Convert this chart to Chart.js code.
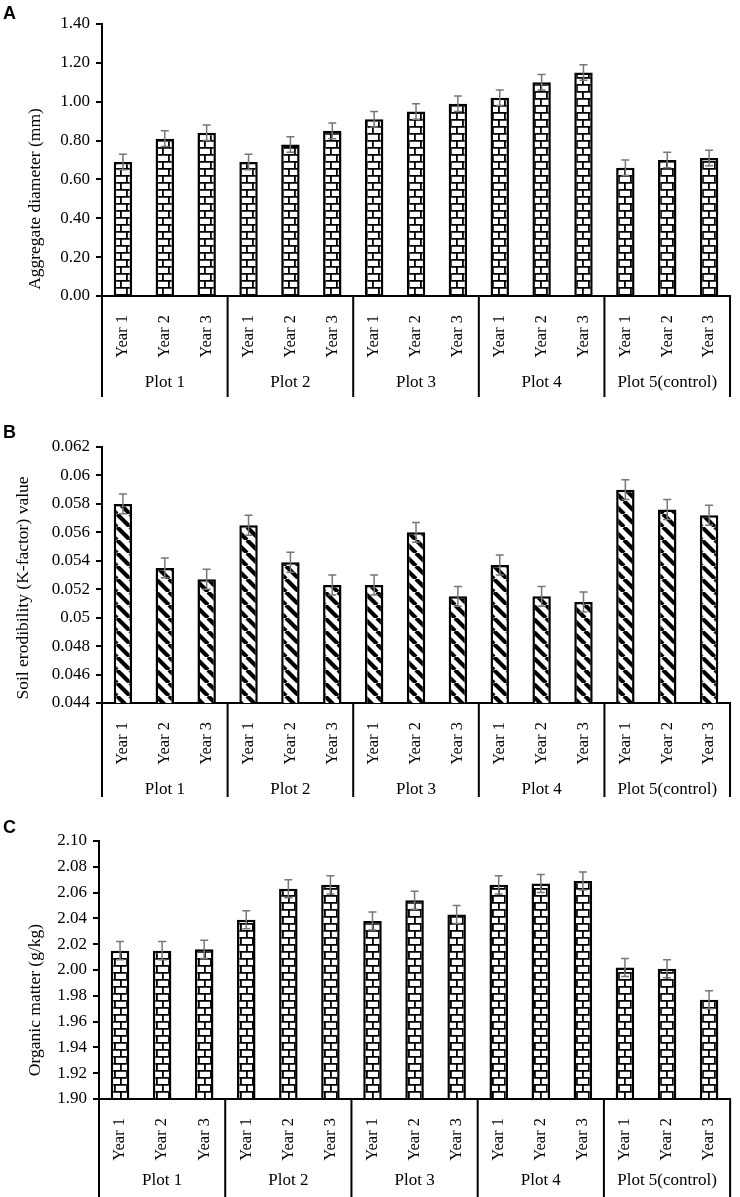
<!DOCTYPE html>
<html>
<head>
<meta charset="utf-8">
<script src="https://cdn.jsdelivr.net/npm/chart.js@4.4.0/dist/chart.umd.min.js"></script>
<style>
  html, body { margin: 0; padding: 0; background: #fff; }
  .panel { position: absolute; left: 0; width: 740px; }
</style>
</head>
<body>
<div class="panel" style="top:0;height:397px"><canvas id="chartA" width="740" height="397"></canvas></div>
<div class="panel" style="top:397px;height:400px"><canvas id="chartB" width="740" height="400"></canvas></div>
<div class="panel" style="top:797px;height:400px"><canvas id="chartC" width="740" height="400"></canvas></div>
<script>
// categories
const years = ["Year 1", "Year 2", "Year 3"];
const plots = ["Plot 1", "Plot 2", "Plot 3", "Plot 4", "Plot 5(control)"];

// panel A: aggregate diameter (mm)
const aggDiameter = [0.69, 0.81, 0.84, 0.69, 0.78, 0.85, 0.91, 0.95, 0.99, 1.02, 1.10, 1.15, 0.66, 0.70, 0.71];
const aggError    = [0.04, 0.04, 0.04, 0.04, 0.04, 0.04, 0.04, 0.04, 0.04, 0.04, 0.04, 0.04, 0.04, 0.04, 0.04];

// panel B: soil erodibility K-factor
const kFactor = [0.0580, 0.0535, 0.0527, 0.0565, 0.0539, 0.0523, 0.0523, 0.0560, 0.0515, 0.0537, 0.0515, 0.0511, 0.0590, 0.0576, 0.0572];
const kError  = [0.0007, 0.0007, 0.0007, 0.0007, 0.0007, 0.0007, 0.0007, 0.0007, 0.0007, 0.0007, 0.0007, 0.0007, 0.0007, 0.0007, 0.0007];

// panel C: organic matter (g/kg)
const organic = [2.015, 2.015, 2.016, 2.039, 2.063, 2.066, 2.038, 2.054, 2.043, 2.066, 2.067, 2.069, 2.002, 2.001, 1.977];
const orgError = [0.007, 0.007, 0.007, 0.007, 0.007, 0.007, 0.007, 0.007, 0.007, 0.007, 0.007, 0.007, 0.007, 0.007, 0.007];

const labels = [];
plots.forEach(() => years.forEach(y => labels.push(y)));

const serif = "'Liberation Serif', 'Times New Roman', serif";

function brickPattern() {
  const c = document.createElement("canvas");
  c.width = 12; c.height = 14;
  const g = c.getContext("2d");
  g.fillStyle = "#fff";
  g.fillRect(0, 0, 12, 14);
  g.strokeStyle = "#000";
  g.lineWidth = 1.8;
  g.beginPath();
  g.moveTo(0, 0.9); g.lineTo(12, 0.9);
  g.moveTo(0, 7.9); g.lineTo(12, 7.9);
  g.moveTo(0.9, 0); g.lineTo(0.9, 7.9);
  g.moveTo(6.9, 7.9); g.lineTo(6.9, 14);
  g.stroke();
  return g.createPattern(c, "repeat");
}

function stripePattern() {
  const s = 13;
  const c = document.createElement("canvas");
  c.width = s; c.height = s;
  const g = c.getContext("2d");
  g.fillStyle = "#fff";
  g.fillRect(0, 0, s, s);
  g.strokeStyle = "#000";
  g.lineWidth = 4.2;
  g.beginPath();
  for (let k = -1; k <= 1; k++) {
    g.moveTo(k * s, 0);
    g.lineTo(k * s + s, s);
  }
  g.stroke();
  return g.createPattern(c, "repeat");
}

// error bars, group separators, group names, panel letter and y title
const decorations = {
  id: "decorations",
  afterDatasetsDraw(chart, args, opts) {
    const ctx = chart.ctx;
    const y = chart.scales.y;
    const meta = chart.getDatasetMeta(0);
    const vals = chart.data.datasets[0].data;
    ctx.save();
    ctx.strokeStyle = "#777";
    ctx.lineWidth = 1.5;
    meta.data.forEach((bar, i) => {
      const top = y.getPixelForValue(vals[i] + opts.errors[i]);
      const bot = y.getPixelForValue(vals[i] - opts.errors[i]);
      ctx.beginPath();
      ctx.moveTo(bar.x, top); ctx.lineTo(bar.x, bot);
      ctx.moveTo(bar.x - 4, top); ctx.lineTo(bar.x + 4, top);
      ctx.moveTo(bar.x - 4, bot); ctx.lineTo(bar.x + 4, bot);
      ctx.stroke();
    });
    ctx.restore();
  },
  afterDraw(chart, args, opts) {
    const ctx = chart.ctx;
    const x = chart.scales.x;
    const area = chart.chartArea;
    const h = chart.height;
    ctx.save();
    ctx.strokeStyle = "#000";
    ctx.lineWidth = 2;
    const bounds = [area.left];
    for (let g = 1; g < plots.length; g++) {
      const i = g * years.length;
      bounds.push((x.getPixelForValue(i - 1) + x.getPixelForValue(i)) / 2);
    }
    bounds.push(area.right);
    ctx.beginPath();
    bounds.forEach(b => { ctx.moveTo(b, area.bottom); ctx.lineTo(b, h); });
    ctx.stroke();

    ctx.fillStyle = "#000";
    ctx.font = "17px " + serif;
    ctx.textAlign = "center";
    ctx.textBaseline = "middle";
    plots.forEach((p, g) => {
      ctx.fillText(p, (bounds[g] + bounds[g + 1]) / 2, area.bottom + opts.groupOffset);
    });

    ctx.font = "bold 18px 'Liberation Sans', Arial, sans-serif";
    ctx.textAlign = "left";
    ctx.textBaseline = "alphabetic";
    ctx.fillText(opts.letter, 3, opts.letterY);

    ctx.translate(opts.titleX, opts.titleY);
    ctx.rotate(-Math.PI / 2);
    ctx.font = "17.5px " + serif;
    ctx.textAlign = "center";
    ctx.textBaseline = "middle";
    ctx.fillText(opts.title, 0, 0);
    ctx.restore();
  }
};

function makeChart(id, cfg) {
  return new Chart(document.getElementById(id), {
    type: "bar",
    data: {
      labels: labels,
      datasets: [{
        data: cfg.values,
        backgroundColor: cfg.fill,
        borderColor: "#000",
        borderWidth: 2.5,
        borderSkipped: "start",
        barPercentage: 0.44,
        categoryPercentage: 1.0
      }]
    },
    options: {
      responsive: false,
      animation: false,
      layout: { padding: { top: cfg.padTop, right: 3, bottom: cfg.padBottom, left: 0 } },
      plugins: {
        legend: { display: false },
        tooltip: { enabled: false },
        decorations: {
          errors: cfg.errors,
          letter: cfg.letter,
          letterY: cfg.letterY,
          title: cfg.title,
          titleX: cfg.titleX,
          titleY: cfg.titleY,
          groupOffset: cfg.groupOffset
        }
      },
      scales: {
        x: {
          grid: { display: false },
          border: { display: true, color: "#000", width: 2 },
          ticks: {
            color: "#000",
            font: { family: serif, size: 16.5 },
            minRotation: 90,
            maxRotation: 90,
            padding: 11,
            autoSkip: false
          },
          afterFit(scale) { scale.height = cfg.xHeight; }
        },
        y: {
          min: cfg.min,
          max: cfg.max,
          grid: { drawOnChartArea: false, drawTicks: true, tickLength: 6, color: "#000", lineWidth: 2 },
          border: { display: true, color: "#000", width: 2 },
          ticks: {
            stepSize: cfg.step,
            color: "#000",
            font: { family: serif, size: 17 },
            padding: 6,
            callback: cfg.fmt
          },
          afterFit(scale) { scale.width = cfg.axisX; }
        }
      }
    },
    plugins: [decorations]
  });
}

makeChart("chartA", {
  values: aggDiameter, errors: aggError, fill: brickPattern(),
  min: 0, max: 1.4, step: 0.2, fmt: v => v.toFixed(2),
  padTop: 24, padBottom: 0, xHeight: 101, axisX: 102,
  letter: "A", letterY: 19, title: "Aggregate diameter (mm)", titleX: 35, titleY: 199,
  groupOffset: 87
});

makeChart("chartB", {
  values: kFactor, errors: kError, fill: stripePattern(),
  min: 0.044, max: 0.062, step: 0.002, fmt: v => String(parseFloat(v.toFixed(3))),
  padTop: 50, padBottom: 0, xHeight: 94, axisX: 102,
  letter: "B", letterY: 41, title: "Soil erodibility (K-factor) value", titleX: 23, titleY: 191,
  groupOffset: 87
});

makeChart("chartC", {
  values: organic, errors: orgError, fill: brickPattern(),
  min: 1.9, max: 2.1, step: 0.02, fmt: v => v.toFixed(2),
  padTop: 44, padBottom: 4, xHeight: 94, axisX: 99,
  letter: "C", letterY: 36, title: "Organic matter (g/kg)", titleX: 35, titleY: 203,
  groupOffset: 82
});
</script>
</body>
</html>
